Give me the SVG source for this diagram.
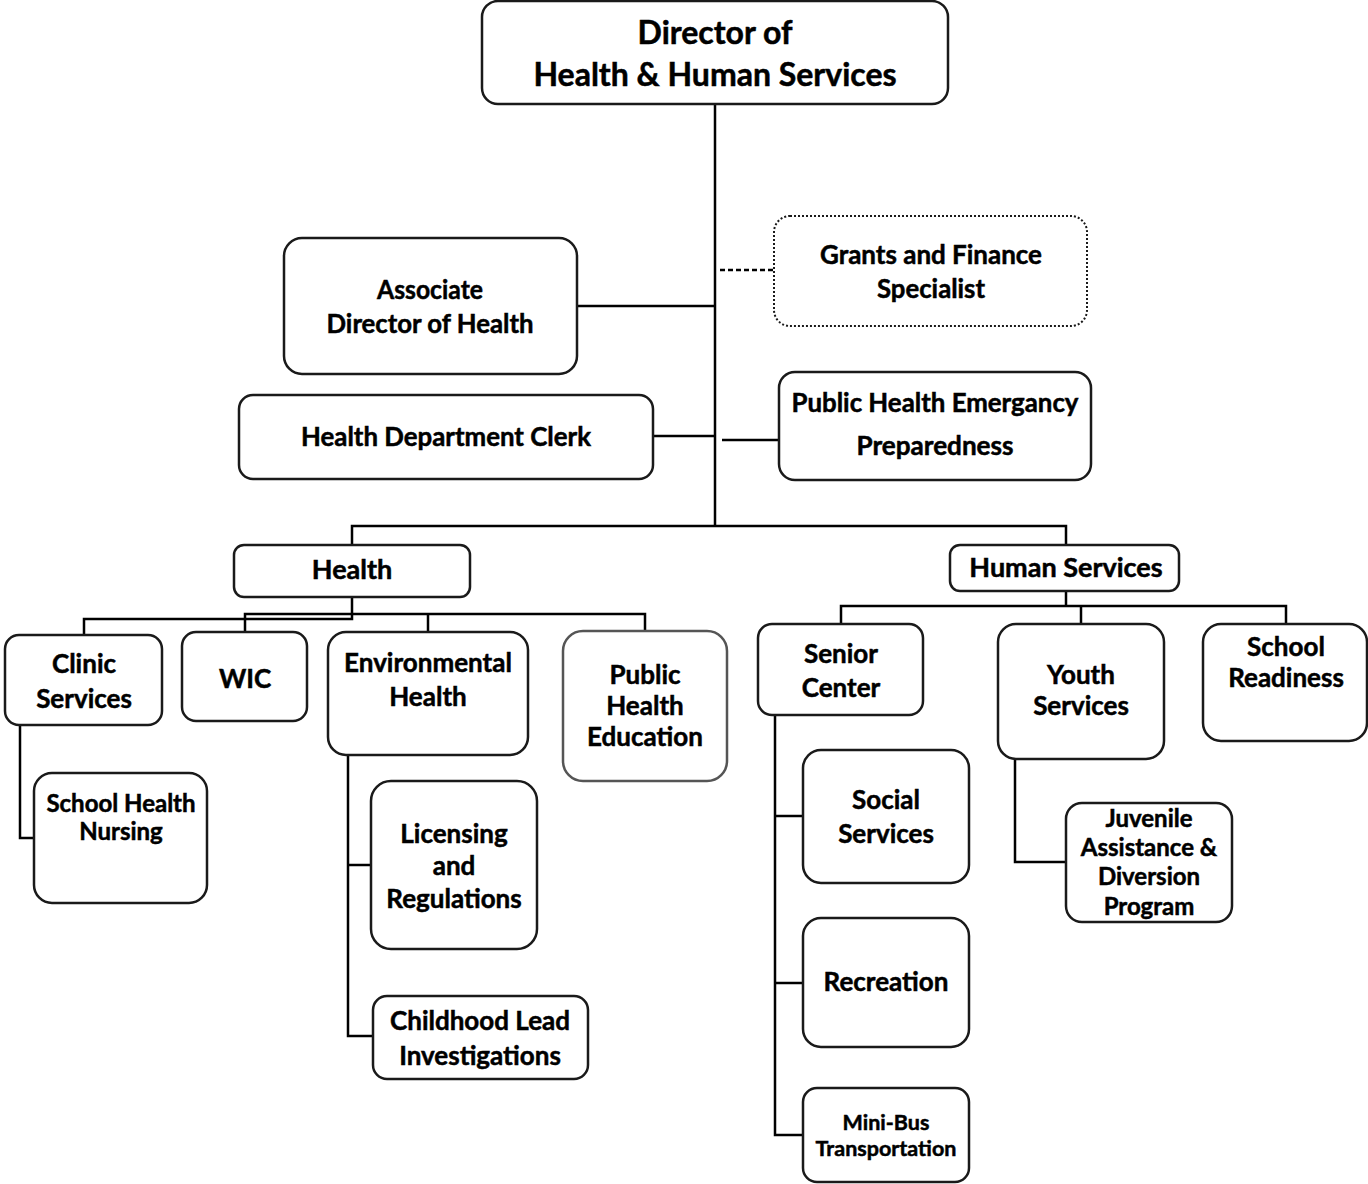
<svg xmlns="http://www.w3.org/2000/svg" width="1368" height="1184" viewBox="0 0 1368 1184">
  <style>
    .box { fill: #fff; stroke: #1a1a1a; stroke-width: 2.5; }
    .soft { stroke: #555; }
    .dot { stroke-dasharray: 2 2; stroke-width: 2; }
    .wire { fill: none; stroke: #000; stroke-width: 2.5; }
    .dash { stroke-dasharray: 5 3; }
    text { font-family: "Lato", "Open Sans", "Liberation Sans", sans-serif; font-weight: 700; fill: #000; stroke: #000; stroke-width: 0.5; text-anchor: middle; }
    .t32 { font-size: 32px; }
    .t27 { font-size: 27px; }
    .t26 { font-size: 26px; }
    .t24 { font-size: 24px; }
    .t21 { font-size: 21.5px; }
  </style>

  <!-- connectors -->
  <g id="connectors">
    <path class="wire" d="M715 104 V526"/>
    <path class="wire dash" d="M720 270 H774"/>
    <path class="wire" d="M577 306 H715"/>
    <path class="wire" d="M653 436 H715"/>
    <path class="wire" d="M722 440 H779"/>
    <path class="wire" d="M352 545 V526 H1066 V545"/>
    <!-- health branches -->
    <path class="wire" d="M352 597 V619 H84 V635"/>
    <path class="wire" d="M245 632 V614 H645 V631"/>
    <path class="wire" d="M428 614 V632"/>
    <path class="wire" d="M20 725 V838 H34"/>
    <path class="wire" d="M348 755 V1036 H373"/>
    <path class="wire" d="M348 865 H371"/>
    <!-- human services branches -->
    <path class="wire" d="M1066 591 V606"/>
    <path class="wire" d="M841 624 V606 H1286 V624"/>
    <path class="wire" d="M1081 606 V624"/>
    <path class="wire" d="M775 715 V1135 H803"/>
    <path class="wire" d="M775 816 H803"/>
    <path class="wire" d="M775 983 H803"/>
    <path class="wire" d="M1015 759 V862 H1066"/>
  </g>

  <g id="director">
    <rect class="box" x="482" y="1" width="466" height="103" rx="16"/>
    <text class="t32" x="715" y="44">Director of</text>
    <text class="t32" x="715" y="86">Health &amp; Human Services</text>
  </g>

  <g id="grants">
    <rect class="box dot" x="774" y="216" width="313" height="110" rx="16"/>
    <text class="t26" x="931" y="264" textLength="222" lengthAdjust="spacingAndGlyphs">Grants and Finance</text>
    <text class="t26" x="931" y="298" textLength="108" lengthAdjust="spacingAndGlyphs">Specialist</text>
  </g>

  <g id="associate">
    <rect class="box" x="284" y="238" width="293" height="136" rx="18"/>
    <text class="t26" x="430" y="299" textLength="106" lengthAdjust="spacingAndGlyphs">Associate</text>
    <text class="t26" x="430" y="333" textLength="207" lengthAdjust="spacingAndGlyphs">Director of Health</text>
  </g>

  <g id="clerk">
    <rect class="box" x="239" y="395" width="414" height="84" rx="14"/>
    <text class="t26" x="446" y="446" textLength="290" lengthAdjust="spacingAndGlyphs">Health Department Clerk</text>
  </g>

  <g id="emergency">
    <rect class="box" x="779" y="372" width="312" height="108" rx="16"/>
    <text class="t26" x="935" y="412" textLength="287" lengthAdjust="spacingAndGlyphs">Public Health Emergancy</text>
    <text class="t26" x="935" y="455" textLength="157" lengthAdjust="spacingAndGlyphs">Preparedness</text>
  </g>

  <g id="health">
    <rect class="box" x="234" y="545" width="236" height="52" rx="10"/>
    <text class="t27" x="352" y="579">Health</text>
  </g>

  <g id="human-services">
    <rect class="box" x="950" y="545" width="229" height="46" rx="10"/>
    <text class="t27" x="1066" y="577">Human Services</text>
  </g>

  <g id="clinic">
    <rect class="box" x="5" y="635" width="157" height="90" rx="14"/>
    <text class="t26" x="84" y="673">Clinic</text>
    <text class="t26" x="84" y="708">Services</text>
  </g>

  <g id="wic">
    <rect class="box" x="182" y="632" width="125" height="89" rx="14"/>
    <text class="t26" x="245" y="688">WIC</text>
  </g>

  <g id="environmental">
    <rect class="box" x="328" y="632" width="200" height="123" rx="18"/>
    <text class="t26" x="428" y="672">Environmental</text>
    <text class="t26" x="428" y="706">Health</text>
  </g>

  <g id="education">
    <rect class="box soft" x="563" y="631" width="164" height="150" rx="20"/>
    <text class="t26" x="645" y="684">Public</text>
    <text class="t26" x="645" y="715">Health</text>
    <text class="t26" x="645" y="746">Education</text>
  </g>

  <g id="school-nursing">
    <rect class="box" x="34" y="773" width="173" height="130" rx="18"/>
    <text class="t24" x="121" y="812">School Health</text>
    <text class="t24" x="121" y="840">Nursing</text>
  </g>

  <g id="licensing">
    <rect class="box" x="371" y="781" width="166" height="168" rx="20"/>
    <text class="t26" x="454" y="843">Licensing</text>
    <text class="t26" x="454" y="875">and</text>
    <text class="t26" x="454" y="908">Regulations</text>
  </g>

  <g id="lead">
    <rect class="box" x="373" y="996" width="215" height="83" rx="14"/>
    <text class="t26" x="480" y="1030">Childhood Lead</text>
    <text class="t26" x="480" y="1065">Investigations</text>
  </g>

  <g id="senior">
    <rect class="box" x="758" y="624" width="165" height="91" rx="14"/>
    <text class="t26" x="841" y="663">Senior</text>
    <text class="t26" x="841" y="697">Center</text>
  </g>

  <g id="youth">
    <rect class="box" x="998" y="624" width="166" height="135" rx="18"/>
    <text class="t26" x="1081" y="684">Youth</text>
    <text class="t26" x="1081" y="715">Services</text>
  </g>

  <g id="readiness">
    <rect class="box" x="1203" y="624" width="164" height="117" rx="18"/>
    <text class="t26" x="1286" y="656">School</text>
    <text class="t26" x="1286" y="687">Readiness</text>
  </g>

  <g id="social">
    <rect class="box" x="803" y="750" width="166" height="133" rx="18"/>
    <text class="t26" x="886" y="809">Social</text>
    <text class="t26" x="886" y="843">Services</text>
  </g>

  <g id="recreation">
    <rect class="box" x="803" y="918" width="166" height="129" rx="18"/>
    <text class="t26" x="886" y="991">Recreation</text>
  </g>

  <g id="minibus">
    <rect class="box" x="803" y="1088" width="166" height="94" rx="14"/>
    <text class="t21" x="886" y="1130">Mini-Bus</text>
    <text class="t21" x="886" y="1156">Transportation</text>
  </g>

  <g id="juvenile">
    <rect class="box" x="1066" y="803" width="166" height="119" rx="16"/>
    <text class="t24" x="1149" y="827">Juvenile</text>
    <text class="t24" x="1149" y="856">Assistance &amp;</text>
    <text class="t24" x="1149" y="885">Diversion</text>
    <text class="t24" x="1149" y="915">Program</text>
  </g>
</svg>
